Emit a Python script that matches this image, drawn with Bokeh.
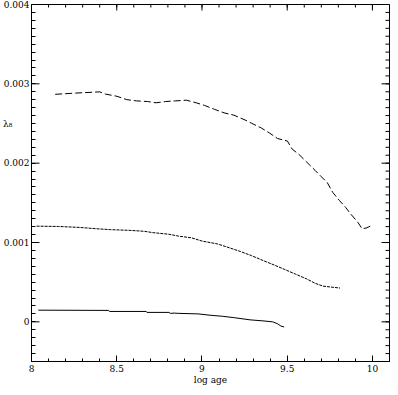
import math
from bokeh.plotting import figure
from bokeh.models import LinearAxis, FixedTicker, Range1d
from bokeh.embed import file_html
from bokeh.resources import INLINE

# Data
dash_x = [8.139, 8.257, 8.40, 8.434, 8.501, 8.558, 8.615, 8.68, 8.731, 8.787, 8.844, 8.909,
          8.966, 9.015, 9.073, 9.13, 9.187, 9.253, 9.291, 9.349, 9.396, 9.444, 9.501, 9.53,
          9.567, 9.615, 9.663, 9.701, 9.735, 9.767, 9.806, 9.844, 9.873, 9.914, 9.939, 9.963, 9.987]
dash_y = [0.002868, 0.002883, 0.002899, 0.002871, 0.002843, 0.002801, 0.002785, 0.002777,
          0.002761, 0.002777, 0.002785, 0.002794, 0.002761, 0.002728, 0.002679, 0.002634,
          0.002605, 0.002544, 0.002503, 0.002442, 0.00238, 0.00231, 0.002279, 0.002175,
          0.002114, 0.002012, 0.00191, 0.001828, 0.001755, 0.001632, 0.00153, 0.001439,
          0.001358, 0.001255, 0.001174, 0.001182, 0.001206]

dot_x = [8.03, 8.158, 8.282, 8.377, 8.463, 8.577, 8.663, 8.71, 8.806, 8.863, 8.939, 9.0,
         9.091, 9.167, 9.225, 9.291, 9.358, 9.425, 9.482, 9.549, 9.615, 9.663, 9.71, 9.758, 9.81]
dot_y = [0.001206, 0.001202, 0.00119, 0.001174, 0.001162, 0.001153, 0.001141, 0.001125,
         0.001104, 0.00108, 0.001059, 0.001018, 0.000982, 0.000929, 0.000887, 0.000834,
         0.000773, 0.000715, 0.000663, 0.000601, 0.00054, 0.000487, 0.00045, 0.000438, 0.000426]

solid_x = [8.04, 8.453, 8.457, 8.673, 8.677, 8.806, 8.815, 8.84, 8.86, 8.977, 9.053, 9.12,
           9.187, 9.282, 9.358, 9.415, 9.444, 9.463, 9.482]
solid_y = [0.000147, 0.000144, 0.000131, 0.000131, 0.000119, 0.000119, 0.000107, 0.00011,
           0.000107, 0.0001, 0.000082, 0.00007, 0.000053, 0.000025, 0.000012, 0.0, -0.000025,
           -0.000053, -0.000065]

x_ticks = [8, 8.5, 9, 9.5, 10]
x_tick_labels = ["8", "8.5", "9", "9.5", "10"]
y_ticks = [0, 0.001, 0.002, 0.003, 0.004]
y_tick_labels = ["0", "0.001", "0.002", "0.003", "0.004"]
x_title = "log age"
y_title = "λ₈"
y_title_at = 0.0025

X0, X1 = 8.0, 10.1
Y0, Y1 = -0.0005, 0.004
FONT = "DejaVu Serif"
NBSP = "\u00a0"

p = figure(width=390, height=387, output_backend="svg", toolbar_location=None,
           x_range=Range1d(X0, X1), y_range=Range1d(Y0, Y1),
           x_axis_location=None, y_axis_location=None,
           min_border_left=0, min_border_right=1, min_border_top=4, min_border_bottom=4)
p.grid.visible = False
p.outline_line_color = "black"
p.background_fill_color = "white"
p.border_fill_color = None

x_minor = [round(X0 + 0.1 * i, 2) for i in range(22)]
y_minor = [round(Y0 + 0.0001 * i, 5) for i in range(46)]

# bottom axis
bx = LinearAxis()
bx.ticker = FixedTicker(ticks=x_ticks, minor_ticks=x_minor)
bx.major_label_overrides = {t: l for t, l in zip(x_ticks, x_tick_labels)}
bx.major_tick_in = 6
bx.minor_tick_in = 3
bx.major_tick_out = 0
bx.minor_tick_out = 0
bx.major_label_standoff = 3
bx.axis_label = x_title
bx.axis_label_standoff = 0
p.add_layout(bx, "below")

# left axis: minor tick marks from the axis, major ones drawn below with rays;
# the y title sits as a label at its height
ly = LinearAxis()
ly.ticker = FixedTicker(ticks=y_ticks + [y_title_at], minor_ticks=y_minor)
overrides = {t: l for t, l in zip(y_ticks, y_tick_labels)}
overrides[y_title_at] = y_title + NBSP * 6
ly.major_label_overrides = overrides
ly.major_tick_in = 0
ly.major_tick_out = 0
ly.minor_tick_in = 4
ly.minor_tick_out = 0
ly.major_label_standoff = 2
p.add_layout(ly, "left")

for ax in (bx, ly):
    ax.axis_line_color = "black"
    ax.major_tick_line_color = "black"
    ax.minor_tick_line_color = "black"
    ax.major_label_text_font = FONT
    ax.major_label_text_font_size = "9px"
    ax.major_label_text_color = "black"
    ax.axis_label_text_font = FONT
    ax.axis_label_text_font_size = "9px"
    ax.axis_label_text_font_style = "normal"
    ax.axis_label_text_color = "black"

# major ticks on the left, ticks on the top and right edges of the frame
p.ray(x=[X0] * len(y_ticks), y=y_ticks, length=8, length_units="screen",
      angle=0, line_color="black", line_width=1)
p.ray(x=x_minor, y=[Y1] * len(x_minor), length=3, length_units="screen",
      angle=-math.pi / 2, line_color="black", line_width=1)
p.ray(x=x_ticks, y=[Y1] * len(x_ticks), length=6, length_units="screen",
      angle=-math.pi / 2, line_color="black", line_width=1)
p.ray(x=[X1] * len(y_minor), y=y_minor, length=4, length_units="screen",
      angle=math.pi, line_color="black", line_width=1)
p.ray(x=[X1] * len(y_ticks), y=y_ticks, length=8, length_units="screen",
      angle=math.pi, line_color="black", line_width=1)

p.line(dash_x, dash_y, line_color="black", line_width=1, line_dash="7 3")
p.line(dot_x, dot_y, line_color="black", line_width=1, line_dash="3 1")
p.line(solid_x, solid_y, line_color="black", line_width=1)

open("out.html", "w").write(file_html(p, INLINE))
